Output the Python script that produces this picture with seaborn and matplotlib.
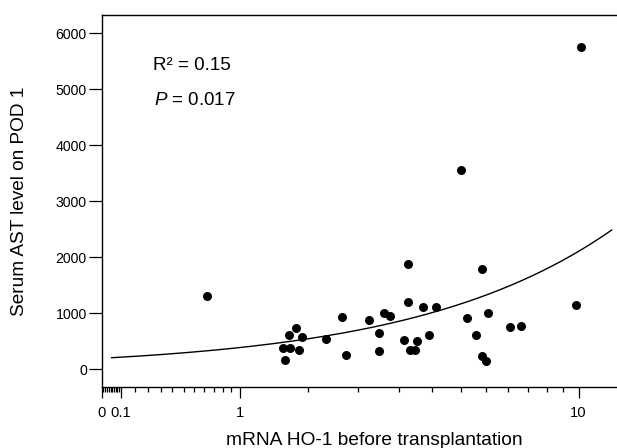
import numpy as np
import pandas as pd
import matplotlib
matplotlib.use("Agg")
import matplotlib.pyplot as plt
import seaborn as sns

# ---- data ----
ho1_mrna = [0.70, 1.49, 1.58, 1.51, 1.57, 1.66, 1.74, 1.70, 2.09, 2.35, 2.42, 2.84,
            3.04, 3.04, 3.13, 3.27, 3.57, 3.66, 3.67, 3.72, 3.83, 3.89, 4.04, 4.18,
            4.36, 5.09, 5.29, 5.56, 5.76, 5.78, 5.90, 5.98, 6.80, 7.24, 9.87, 10.13]
ast_pod1 = [1309, 375, 375, 166, 618, 732, 571, 339, 536, 934, 250, 880,
            654, 332, 1000, 946, 523, 1875, 1196, 339, 345, 505, 1107, 607,
            1112, 3554, 911, 618, 1786, 232, 143, 1011, 761, 773, 1143, 5755]
fit_intercept = 197.0
fit_slope = 191.0
fit_range = [0.05, 12.0]
x_major_ticks = [0, 0.1, 1, 10]
x_major_labels = ["0", "0.1", "1", "10"]
y_ticks = [0, 1000, 2000, 3000, 4000, 5000, 6000]
r2_text = "R\u00b2 = 0.15"
p_value_text = " = 0.017"

df = pd.DataFrame({"ho1": ho1_mrna, "ast": ast_pod1})
fit_x = np.linspace(fit_range[0], fit_range[1], 300)
fit_df = pd.DataFrame({"ho1": fit_x, "ast": fit_intercept + fit_slope * fit_x})

sns.set_style("ticks")
plt.rcParams["font.family"] = ["Liberation Sans", "DejaVu Sans"]
plt.rcParams["mathtext.fontset"] = "custom"
plt.rcParams["mathtext.it"] = "Liberation Sans:italic"
plt.rcParams["mathtext.rm"] = "Liberation Sans"

fig = plt.figure(figsize=(6.17, 4.48), dpi=100)
ax = fig.add_axes([101.7 / 617, 1 - 387 / 448, (636 - 101.7) / 617, (387 - 15) / 448])

ax.set_xscale("function", functions=(lambda v: np.log10(np.asarray(v) + 1.0),
                                      lambda v: 10.0 ** np.asarray(v) - 1.0))

sns.lineplot(data=fit_df, x="ho1", y="ast", color="black", linewidth=1.0, ax=ax)
sns.scatterplot(data=df, x="ho1", y="ast", color="black", s=42, linewidth=0, ax=ax, zorder=3)

ax.set_xlim(0, 13.68)
ax.set_ylim(-316, 6327)

# ticks
minor = []
for a, b in zip(x_major_ticks[:-1], x_major_ticks[1:]):
    step = (b - a) / 11.0
    minor += [a + step * i for i in range(1, 11)]
ax.set_xticks(x_major_ticks)
ax.set_xticklabels(x_major_labels)
ax.set_xticks(minor, minor=True)
ax.set_yticks(y_ticks)
ax.set_yticklabels([str(v) for v in y_ticks])

ax.tick_params(axis="y", which="major", direction="out", length=9.5, width=0.9,
               labelsize=10.2, color="black", labelcolor="black", pad=1.2)
ax.tick_params(axis="x", which="major", direction="out", length=7.7, width=0.9,
               labelsize=10.6, color="black", labelcolor="black", pad=6)
ax.tick_params(axis="x", which="minor", direction="out", length=3.6, width=0.9, color="black")
ax.tick_params(axis="y", which="minor", left=False)

for side in ["left", "bottom", "top"]:
    ax.spines[side].set_color("black")
    ax.spines[side].set_linewidth(1.0)
ax.spines["right"].set_visible(False)

ax.set_xlabel("mRNA HO-1 before transplantation", fontsize=13.8, color="black")
ax.set_ylabel("Serum AST level on POD 1", fontsize=13.7, color="black")
ax.xaxis.set_label_coords(0.511, -0.121)
ax.yaxis.set_label_coords(-0.1375, 0.5)

ax.text(0.0966, 0.8637, r2_text, transform=ax.transAxes, fontsize=13.5,
        va="center", ha="left", color="black")
ax.text(0.0979, 0.7715, r"$\it{P}$" + p_value_text, transform=ax.transAxes, fontsize=13.5,
        va="center", ha="left", color="black")

fig.savefig("out.png", dpi=100)
